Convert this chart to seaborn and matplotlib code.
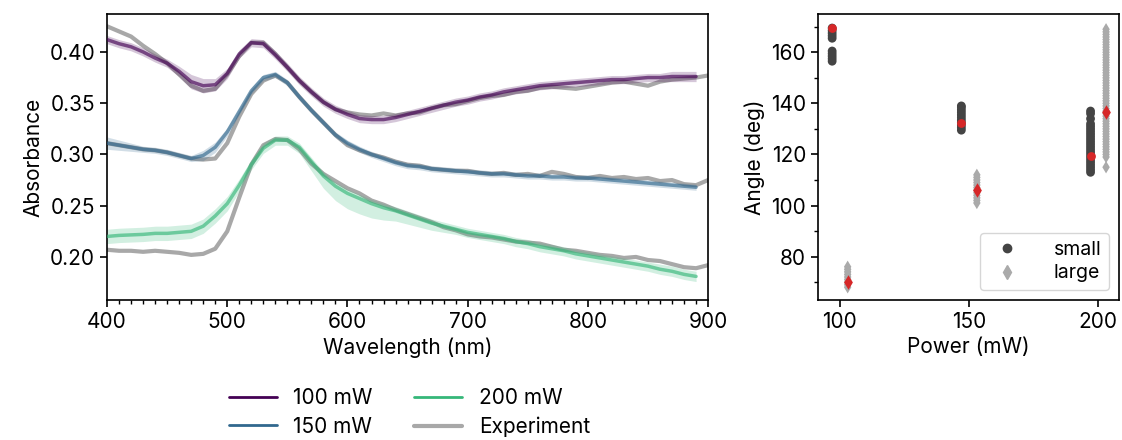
import numpy as np
import pandas as pd
import matplotlib
matplotlib.use('Agg')
import matplotlib.pyplot as plt
from matplotlib.lines import Line2D
from matplotlib.ticker import MultipleLocator, FormatStrFormatter
import seaborn as sns

sns.set_theme(style='ticks')
plt.rcParams['font.family'] = ['Inter', 'DejaVu Sans']
plt.rcParams.update({'font.size': 15, 'axes.labelsize': 15,
                     'xtick.labelsize': 15, 'ytick.labelsize': 15,
                     'legend.fontsize': 15, 'text.color': 'black',
                     'axes.labelcolor': 'black', 'xtick.color': 'black',
                     'ytick.color': 'black', 'axes.edgecolor': 'black'})

# ---- absorbance spectra (left) ----
sim_wl = [400, 410, 420, 430, 440, 450, 460, 470, 480, 490,
          500, 510, 520, 530, 540, 550, 560, 570, 580, 590,
          600, 610, 620, 630, 640, 650, 660, 670, 680, 690,
          700, 710, 720, 730, 740, 750, 760, 770, 780, 790,
          800, 810, 820, 830, 840, 850, 860, 870, 880, 890]

sim_100 = [0.412, 0.408, 0.405, 0.400, 0.394, 0.389, 0.381, 0.371, 0.367, 0.368,
           0.379, 0.398, 0.409, 0.408, 0.397, 0.385, 0.372, 0.361, 0.351, 0.344,
           0.339, 0.335, 0.334, 0.334, 0.336, 0.339, 0.342, 0.345, 0.348, 0.351,
           0.353, 0.356, 0.358, 0.361, 0.363, 0.365, 0.367, 0.368, 0.369, 0.370,
           0.371, 0.372, 0.373, 0.373, 0.374, 0.375, 0.375, 0.376, 0.376, 0.376]
spread_100 = [0.004, 0.004, 0.004, 0.004, 0.004, 0.004, 0.005, 0.007, 0.007, 0.006,
              0.005, 0.004, 0.004, 0.004, 0.004, 0.004, 0.004, 0.004, 0.004, 0.004,
              0.004, 0.004, 0.004, 0.004, 0.004, 0.004, 0.004, 0.004, 0.004, 0.004,
              0.004, 0.004, 0.004, 0.004, 0.004, 0.004, 0.004, 0.004, 0.004, 0.004,
              0.004, 0.004, 0.004, 0.004, 0.004, 0.004, 0.004, 0.005, 0.005, 0.005]

sim_150 = [0.311, 0.309, 0.307, 0.305, 0.304, 0.302, 0.299, 0.296, 0.299, 0.307,
           0.322, 0.342, 0.362, 0.375, 0.378, 0.370, 0.356, 0.343, 0.331, 0.319,
           0.311, 0.305, 0.300, 0.296, 0.292, 0.289, 0.288, 0.286, 0.285, 0.284,
           0.283, 0.282, 0.281, 0.281, 0.280, 0.279, 0.279, 0.278, 0.278, 0.277,
           0.277, 0.276, 0.275, 0.274, 0.273, 0.272, 0.271, 0.270, 0.269, 0.268]
spread_150 = [0.006, 0.005, 0.004, 0.003, 0.003, 0.003, 0.003, 0.003, 0.005, 0.005,
              0.004, 0.003, 0.003, 0.003, 0.003, 0.003, 0.003, 0.003, 0.003, 0.003,
              0.003, 0.003, 0.003, 0.003, 0.003, 0.003, 0.003, 0.003, 0.003, 0.003,
              0.003, 0.003, 0.003, 0.003, 0.003, 0.003, 0.003, 0.003, 0.003, 0.003,
              0.003, 0.003, 0.003, 0.003, 0.003, 0.003, 0.003, 0.003, 0.003, 0.003]

sim_200 = [0.220, 0.221, 0.2215, 0.222, 0.223, 0.223, 0.224, 0.225, 0.230, 0.240,
           0.252, 0.270, 0.290, 0.306, 0.314, 0.314, 0.307, 0.293, 0.279, 0.269,
           0.262, 0.257, 0.252, 0.248, 0.245, 0.241, 0.237, 0.233, 0.230, 0.227,
           0.224, 0.222, 0.220, 0.218, 0.215, 0.213, 0.210, 0.208, 0.206, 0.203,
           0.201, 0.199, 0.197, 0.195, 0.193, 0.191, 0.188, 0.186, 0.183, 0.181]
spread_200_lo = [0.007, 0.007, 0.007, 0.007, 0.007, 0.007, 0.007, 0.007, 0.007, 0.007,
                 0.007, 0.006, 0.005, 0.005, 0.005, 0.005, 0.006, 0.009, 0.012, 0.014,
                 0.015, 0.015, 0.014, 0.012, 0.010, 0.009, 0.008, 0.007, 0.006, 0.005,
                 0.005, 0.005, 0.005, 0.005, 0.005, 0.005, 0.005, 0.005, 0.005, 0.005,
                 0.005, 0.005, 0.005, 0.005, 0.005, 0.005, 0.005, 0.005, 0.005, 0.005]
spread_200_hi = [0.007, 0.007, 0.007, 0.007, 0.007, 0.007, 0.007, 0.007, 0.007, 0.007,
                 0.007, 0.006, 0.005, 0.005, 0.004, 0.004, 0.004, 0.004, 0.004, 0.004,
                 0.004, 0.004, 0.004, 0.004, 0.004, 0.004, 0.004, 0.004, 0.004, 0.004,
                 0.004, 0.004, 0.004, 0.004, 0.004, 0.004, 0.004, 0.004, 0.004, 0.004,
                 0.004, 0.004, 0.004, 0.004, 0.004, 0.004, 0.005, 0.005, 0.005, 0.005]

exp_wl = [400, 410, 420, 430, 440, 450, 460, 470, 480, 490,
          500, 510, 520, 530, 540, 550, 560, 570, 580, 590,
          600, 610, 620, 630, 640, 650, 660, 670, 680, 690,
          700, 710, 720, 730, 740, 750, 760, 770, 780, 790,
          800, 810, 820, 830, 840, 850, 860, 870, 880, 890, 900]

exp_100 = [0.425, 0.420, 0.415, 0.406, 0.398, 0.389, 0.378, 0.367, 0.362, 0.364,
           0.378, 0.396, 0.409, 0.409, 0.398, 0.385, 0.372, 0.361, 0.351, 0.344,
           0.341, 0.339, 0.338, 0.340, 0.338, 0.340, 0.341, 0.345, 0.348, 0.349,
           0.352, 0.355, 0.357, 0.358, 0.361, 0.362, 0.365, 0.366, 0.365, 0.364,
           0.366, 0.368, 0.370, 0.371, 0.369, 0.367, 0.371, 0.373, 0.374, 0.375, 0.377]

exp_150 = [0.311, 0.309, 0.307, 0.305, 0.304, 0.302, 0.299, 0.296, 0.295, 0.296,
           0.311, 0.337, 0.359, 0.372, 0.377, 0.370, 0.356, 0.343, 0.331, 0.319,
           0.309, 0.304, 0.300, 0.297, 0.293, 0.290, 0.289, 0.286, 0.285, 0.284,
           0.284, 0.282, 0.281, 0.282, 0.280, 0.281, 0.279, 0.283, 0.281, 0.278,
           0.277, 0.279, 0.277, 0.278, 0.276, 0.277, 0.274, 0.275, 0.271, 0.270, 0.275]

exp_200 = [0.207, 0.206, 0.206, 0.205, 0.206, 0.205, 0.204, 0.202, 0.203, 0.208,
           0.225, 0.258, 0.290, 0.309, 0.315, 0.314, 0.305, 0.291, 0.281, 0.274,
           0.267, 0.262, 0.255, 0.251, 0.246, 0.242, 0.238, 0.234, 0.229, 0.226,
           0.222, 0.220, 0.219, 0.217, 0.215, 0.214, 0.213, 0.210, 0.207, 0.206,
           0.204, 0.202, 0.201, 0.199, 0.200, 0.197, 0.196, 0.193, 0.190, 0.189, 0.192]

powers = ['100 mW', '150 mW', '200 mW']
colors = ['#440154', '#31688e', '#35b779']
exp_color = '#a8a8a8'

# ---- fitted angles (right) ----
angle_small_100 = [156.5, 157.5, 158.5, 159.5, 160.5, 165.5, 166.5, 167.5, 168.5, 169.5]
angle_small_150 = [129.5, 130.5, 131.5, 132.5, 133.5, 134.5, 135.5, 136.5, 137.5, 138.5, 139.0]
angle_small_200 = [113, 114, 115, 116, 117, 118, 119, 120, 121, 122, 123, 124, 125,
                   126, 127, 128, 129, 130, 131, 132, 134, 136, 137]
angle_large_100 = [68, 69, 70, 71, 72, 73, 74, 75, 76]
angle_large_150 = [101, 102, 103, 104, 105, 106, 107, 108, 109, 110, 111, 112]
angle_large_200 = [115, 119, 120, 121, 122, 123, 124, 125, 126, 127, 128, 129, 130,
                   131, 132, 133, 134, 135, 136, 137, 138, 139, 140, 141, 142, 143,
                   144, 145, 146, 147, 148, 149, 150, 151, 152, 153, 154, 155, 156,
                   157, 158, 159, 160, 161, 162, 163, 164, 165, 166, 167, 168, 169]
x_small = [97, 147, 197]
x_large = [103, 153, 203]
best_small = [169.7, 132.3, 119.3]
best_large = [70.2, 106.2, 136.8]

fig = plt.figure(figsize=(11.22, 4.4), dpi=100)
ax1 = fig.add_axes([0.0954, 0.3182, 0.5357, 0.65])
ax2 = fig.add_axes([0.729, 0.3182, 0.2683, 0.65])

# left panel: measured spectra underneath, simulated ensembles on top
exp_df = pd.DataFrame({'wl': exp_wl * 3,
                       'A': exp_100 + exp_150 + exp_200,
                       'run': np.repeat(powers, len(exp_wl))})
for p in powers:
    d = exp_df[exp_df['run'] == p]
    sns.lineplot(data=d, x='wl', y='A', ax=ax1, color=exp_color, lw=3,
                 errorbar=None, zorder=1)

sim = [(sim_100, spread_100, spread_100),
       (sim_150, spread_150, spread_150),
       (sim_200, spread_200_lo, spread_200_hi)]
wl = np.array(sim_wl)
for (mid, lo, hi), c in zip(sim, colors):
    mid = np.array(mid)
    ax1.fill_between(wl, mid - np.array(lo), mid + np.array(hi), color=c,
                     alpha=0.22, lw=0, zorder=2)
    sns.lineplot(x=wl, y=mid, ax=ax1, color=c, lw=2.5, alpha=0.65,
                 errorbar=None, zorder=3)

ax1.set_xlim(400, 900)
ax1.set_ylim(0.158, 0.437)
ax1.xaxis.set_major_locator(MultipleLocator(100))
ax1.xaxis.set_minor_locator(MultipleLocator(10))
ax1.yaxis.set_major_locator(MultipleLocator(0.05))
ax1.yaxis.set_major_formatter(FormatStrFormatter('%.2f'))
ax1.set_xlabel('Wavelength (nm)')
ax1.set_ylabel('Absorbance')

handles = [Line2D([], [], color=colors[0], lw=2),
           Line2D([], [], color=colors[1], lw=2),
           Line2D([], [], color=colors[2], lw=2),
           Line2D([], [], color=exp_color, lw=3)]
fig.legend(handles, powers + ['Experiment'], ncol=2, frameon=False,
           loc='upper center', bbox_to_anchor=(0.365, 0.16),
           handlelength=2.3, handletextpad=0.8, columnspacing=2.0,
           labelspacing=0.4)

# right panel
rows = []
for x, vals in zip(x_small, [angle_small_100, angle_small_150, angle_small_200]):
    rows += [(x, v, 'small') for v in vals]
for x, vals in zip(x_large, [angle_large_100, angle_large_150, angle_large_200]):
    rows += [(x, v, 'large') for v in vals]
ang_df = pd.DataFrame(rows, columns=['power', 'angle', 'size'])

sns.scatterplot(data=ang_df, x='power', y='angle', hue='size', style='size',
                palette={'small': '#444444', 'large': '#aaaaaa'},
                markers={'small': 'o', 'large': 'd'}, s=40, linewidth=0,
                legend=False, ax=ax2)
ax2.scatter(x_small, best_small, color='#d62728', marker='o', s=40, lw=0, zorder=5)
ax2.scatter(x_large, best_large, color='#d62728', marker='d', s=55, lw=0, zorder=5)

ax2.set_xlim(91.5, 208)
ax2.set_ylim(63, 175)
ax2.xaxis.set_major_locator(MultipleLocator(50))
ax2.yaxis.set_major_locator(MultipleLocator(20))
ax2.yaxis.set_minor_locator(MultipleLocator(10))
ax2.set_xlabel('Power (mW)')
ax2.set_ylabel('Angle (deg)')

leg_h = [Line2D([], [], ls='', marker='o', color='#444444', markersize=6),
         Line2D([], [], ls='', marker='d', color='#aaaaaa', markersize=7)]
ax2.legend(leg_h, ['small', 'large'], loc='lower right', handletextpad=1.4,
           fancybox=True, framealpha=0.8, edgecolor='#cccccc',
           borderpad=0.4, labelspacing=0.3, fontsize=14)

for ax in (ax1, ax2):
    for s in ax.spines.values():
        s.set_linewidth(1.2)
    ax.tick_params(which='major', direction='out', length=5, width=1.2)
    ax.tick_params(which='minor', direction='out', length=3, width=1.0)

fig.savefig('out.png', dpi=100)
